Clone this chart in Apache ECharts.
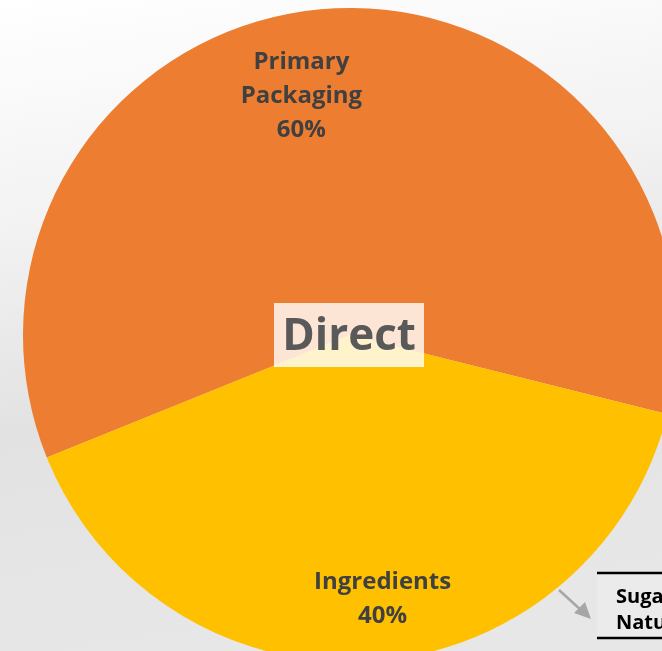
<!DOCTYPE html>
<html>
<head>
<meta charset="utf-8">
<script src="https://cdn.jsdelivr.net/npm/echarts@6/dist/echarts.min.js"></script>
<style>
  html, body { margin: 0; padding: 0; }
  #main { width: 662px; height: 651px; }
</style>
</head>
<body>
<div id="main"></div>
<script>
// slice data
const categories = ["Primary\nPackaging", "Ingredients"];
const shares = [60, 40];
const sliceColors = ["#ED7D31", "#FFC000"];
const centerTitle = "Direct";
const sideNote = ["Sugar", "Natural"];

// nudge the inside labels to where the original puts them
const labelShift = [
  { dx: -37, dy: -73 },
  { dx: 21, dy: 98 },
];

const chart = echarts.init(document.getElementById("main"));

chart.setOption({
  backgroundColor: {
    type: "linear", x: 0, y: 0, x2: 0.15, y2: 1,
    colorStops: [
      { offset: 0, color: "#ffffff" },
      { offset: 0.35, color: "#f2f2f2" },
      { offset: 0.65, color: "#e2e2e2" },
      { offset: 1, color: "#e7e7e7" },
    ],
  },
  animation: false,
  series: [
    {
      type: "pie",
      center: [350, 335],
      radius: [0, 327],
      startAngle: 202,
      clockwise: true,
      data: categories.map((name, i) => ({
        name: name,
        value: shares[i],
        itemStyle: { color: sliceColors[i] },
      })),
      label: {
        position: "inside",
        formatter: "{b}\n{d}%",
        fontFamily: "Open Sans",
        fontWeight: "bold",
        fontSize: 24,
        lineHeight: 34,
        color: "#404040",
        align: "center",
      },
      labelLayout: (params) => labelShift[params.dataIndex],
      emphasis: { disabled: true },
    },
  ],
  graphic: [
    {
      type: "rect",
      z: 100,
      shape: { x: 274, y: 303, width: 150, height: 64 },
      style: { fill: "rgba(255,255,255,0.8)" },
    },
    {
      type: "text",
      z: 101,
      x: 349,
      y: 337,
      style: {
        text: centerTitle,
        fontFamily: "Open Sans",
        fontWeight: "bold",
        fontSize: 44,
        fill: "#595959",
        align: "center",
        verticalAlign: "middle",
      },
    },
    {
      type: "rect",
      shape: { x: 597, y: 573, width: 70, height: 65 },
      style: { fill: "rgba(240,240,240,0.5)" },
    },
    {
      type: "line",
      shape: { x1: 597, y1: 573, x2: 662, y2: 573 },
      style: { stroke: "#000", lineWidth: 2.5 },
    },
    {
      type: "line",
      shape: { x1: 597, y1: 638, x2: 662, y2: 638 },
      style: { stroke: "#000", lineWidth: 2.5 },
    },
    {
      type: "text",
      x: 616,
      y: 610,
      style: {
        text: sideNote.join("\n"),
        fontFamily: "Open Sans",
        fontWeight: "bold",
        fontSize: 20,
        lineHeight: 26,
        fill: "#000",
        verticalAlign: "middle",
      },
    },
    {
      type: "line",
      shape: { x1: 559, y1: 590, x2: 582, y2: 611 },
      style: { stroke: "#a6a6a6", lineWidth: 2.5 },
    },
    {
      type: "polygon",
      shape: { points: [[591, 619], [574, 613], [585, 602]] },
      style: { fill: "#a6a6a6" },
    },
  ],
});
</script>
</body>
</html>
